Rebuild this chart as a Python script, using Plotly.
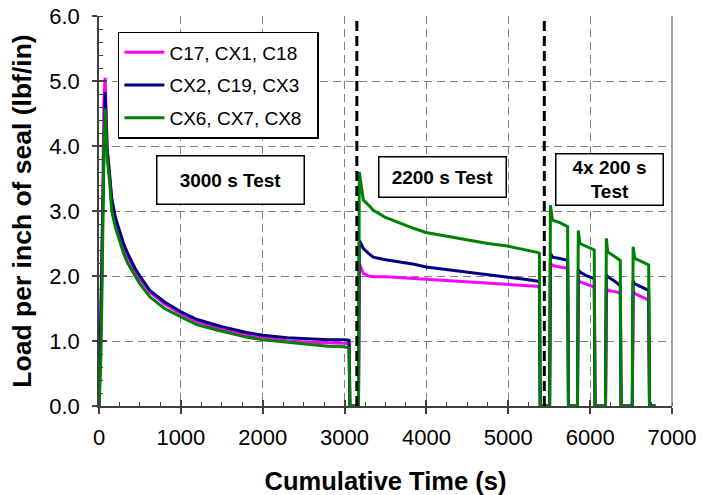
import plotly.graph_objects as go

# ---------------- data ----------------
time_s = [
    # 3000 s test
    0, 20, 40, 60, 75, 100, 130, 155, 200, 250, 300, 350, 440, 500, 620, 800,
    1000, 1200, 1500, 1800, 2000, 2300, 2600, 2800, 3000, 3055, 3065, 3170,
    # 2200 s test
    3180, 3229, 3300, 3351, 3500, 3677, 3850, 3995, 4250, 4492, 4750, 4988,
    5200, 5367, 5380, 5390, 5505,
    # 4x 200 s test
    5515, 5540, 5630, 5725, 5735, 5845,
    5855, 5875, 5960, 6050, 6060, 6188,
    6198, 6215, 6300, 6368, 6378, 6515,
    6525, 6545, 6630, 6715, 6725, 6800,
]

load_c17_cx1_c18 = [
    0, 0.8, 2.7, 4.7, 5.05, 3.95, 3.55, 3.15, 2.85, 2.62, 2.45, 2.3, 2.08, 1.96, 1.75, 1.57,
    1.42, 1.3, 1.18, 1.1, 1.06, 1.0, 0.98, 0.97, 0.96, 0.96, 0, 0,
    2.19, 2.04, 2.0, 1.99, 1.99, 1.98, 1.96, 1.95, 1.93, 1.91, 1.89, 1.87,
    1.85, 1.84, 1.84, 0, 0,
    2.2, 2.16, 2.14, 2.12, 0, 0,
    1.95, 1.91, 1.87, 1.83, 0, 0,
    1.82, 1.78, 1.76, 1.74, 0, 0,
    1.78, 1.73, 1.68, 1.63, 0, 0,
]

load_cx2_c19_cx3 = [
    0, 1.4, 2.5, 4.4, 4.83, 3.95, 3.6, 3.2, 2.9, 2.68, 2.5, 2.35, 2.12, 2.0, 1.78, 1.6,
    1.45, 1.33, 1.22, 1.13, 1.09, 1.05, 1.03, 1.02, 1.02, 1.01, 0, 0,
    2.55, 2.42, 2.34, 2.29, 2.25, 2.22, 2.18, 2.14, 2.1, 2.06, 2.03, 1.99,
    1.95, 1.92, 1.92, 0, 0,
    2.35, 2.29, 2.27, 2.24, 0, 0,
    2.1, 2.06, 2.0, 1.96, 0, 0,
    2.02, 1.99, 1.92, 1.85, 0, 0,
    1.92, 1.88, 1.83, 1.78, 0, 0,
]

load_cx6_cx7_cx8 = [
    0, 0.6, 2.0, 4.1, 4.58, 3.8, 3.45, 3.0, 2.75, 2.55, 2.35, 2.2, 2.0, 1.88, 1.68, 1.5,
    1.37, 1.25, 1.15, 1.06, 1.02, 0.98, 0.94, 0.92, 0.91, 0.89, 0, 0,
    3.6, 3.17, 3.08, 3.01, 2.9, 2.81, 2.73, 2.67, 2.61, 2.56, 2.5, 2.46,
    2.41, 2.36, 2.35, 0, 0,
    3.09, 2.86, 2.82, 2.76, 0, 0,
    2.70, 2.50, 2.45, 2.40, 0, 0,
    2.58, 2.37, 2.30, 2.24, 0, 0,
    2.45, 2.27, 2.22, 2.17, 0, 0,
]

series_names = ["C17, CX1, C18", "CX2, C19, CX3", "CX6, CX7, CX8"]
series_values = [load_c17_cx1_c18, load_cx2_c19_cx3, load_cx6_cx7_cx8]
series_colors = ["#FF00FF", "#000080", "#008000"]

test_boundaries = [3150, 5440]
test_labels = ["<b>3000 s Test</b>", "<b>2200 s Test</b>", "<b>4x 200 s<br>Test</b>"]
label_x = [1612, 4202, 6242]
label_y = [3.47, 3.53, 3.49]
label_w = [144, 124, 104]
label_h = [45, 37, 48]

x_major = [0, 1000, 2000, 3000, 4000, 5000, 6000, 7000]
y_major = [0, 1, 2, 3, 4, 5, 6]

FONT = "Liberation Sans, Arial, sans-serif"
AX = "#404040"
GRID = "#808080"
PAD = "\u00a0\u00a0"

fig = go.Figure()
for name, vals, col in zip(series_names, series_values, series_colors):
    fig.add_trace(go.Scatter(
        x=time_s, y=vals, mode="lines", name=name + PAD, legendgroup=name,
        line=dict(color=col, width=3),
    ))

# invisible traces on overlay axes to draw inside part of the major ticks
fig.add_trace(go.Scatter(x=[None], y=[None], xaxis="x2", yaxis="y",
                         showlegend=False, hoverinfo="skip"))
fig.add_trace(go.Scatter(x=[None], y=[None], xaxis="x", yaxis="y2",
                         showlegend=False, hoverinfo="skip"))

for xb in test_boundaries:
    fig.add_shape(type="line", xref="x", yref="y", x0=xb, x1=xb, y0=0, y1=6,
                  line=dict(color="black", width=3, dash="10px,5px"), layer="above")

# right border of the plot area
fig.add_shape(type="line", xref="paper", yref="paper", x0=1, x1=1, y0=0, y1=1,
              line=dict(color=GRID, width=1.5), layer="above")

for txt, xx, yy, w, h in zip(test_labels, label_x, label_y, label_w, label_h):
    fig.add_annotation(x=xx, y=yy, xref="x", yref="y", text=txt, showarrow=False,
                       font=dict(family=FONT, size=19, color="black"),
                       bgcolor="white", bordercolor="black", borderwidth=1.5,
                       borderpad=1, width=w, height=h, align="center")

fig.update_layout(
    width=703, height=495,
    margin=dict(l=99, r=31, t=16, b=89),
    paper_bgcolor="white", plot_bgcolor="white",
    font=dict(family=FONT, color="black"),
    showlegend=True,
    legend=dict(x=0.033, y=0.959, xanchor="left", yanchor="top",
                bgcolor="white", bordercolor="black", borderwidth=1.5,
                font=dict(family=FONT, size=19, color="black"),
                tracegroupgap=5, traceorder="grouped", itemwidth=40),
    xaxis=dict(
        range=[0, 7000], tickmode="array", tickvals=x_major, automargin=False,
        showgrid=True, gridcolor=GRID, gridwidth=1, griddash="8px,5px",
        zeroline=False, showline=True, linecolor=AX, linewidth=1.5,
        ticks="outside", ticklen=6, tickwidth=1.5, tickcolor=AX,
        ticklabelstandoff=5,
        tickfont=dict(family=FONT, size=22, color="black"),
        minor=dict(dtick=250, tick0=0, ticks="inside", ticklen=4, tickcolor=AX,
                   tickwidth=1.2, showgrid=False),
        title=dict(text="<b>Cumulative Time (s)</b>",
                   font=dict(family=FONT, size=25.5, color="black"), standoff=26),
    ),
    yaxis=dict(
        range=[0, 6], tickmode="array", tickvals=y_major, tickformat=".1f",
        automargin=False,
        showgrid=True, gridcolor=GRID, gridwidth=1, griddash="8px,5px",
        zeroline=False, showline=True, linecolor=AX, linewidth=1.5,
        ticks="outside", ticklen=5, tickwidth=1.5, tickcolor=AX,
        ticklabelstandoff=8,
        tickfont=dict(family=FONT, size=22, color="black"),
        minor=dict(dtick=0.2, tick0=0, ticks="inside", ticklen=4, tickcolor=AX,
                   tickwidth=1.2, showgrid=False),
        title=dict(text="<b>Load per inch of seal (lbf/in)</b>",
                   font=dict(family=FONT, size=26.5, color="black"), standoff=10),
    ),
    xaxis2=dict(overlaying="x", matches="x", anchor="y", side="bottom",
                tickmode="array", tickvals=x_major, ticks="inside", ticklen=6,
                tickwidth=1.5, tickcolor=AX, showticklabels=False,
                showgrid=False, zeroline=False, showline=False),
    yaxis2=dict(overlaying="y", matches="y", anchor="x", side="left",
                tickmode="array", tickvals=y_major, ticks="inside", ticklen=8,
                tickwidth=1.5, tickcolor=AX, showticklabels=False,
                showgrid=False, zeroline=False, showline=False),
)

fig.write_html("out.html")
